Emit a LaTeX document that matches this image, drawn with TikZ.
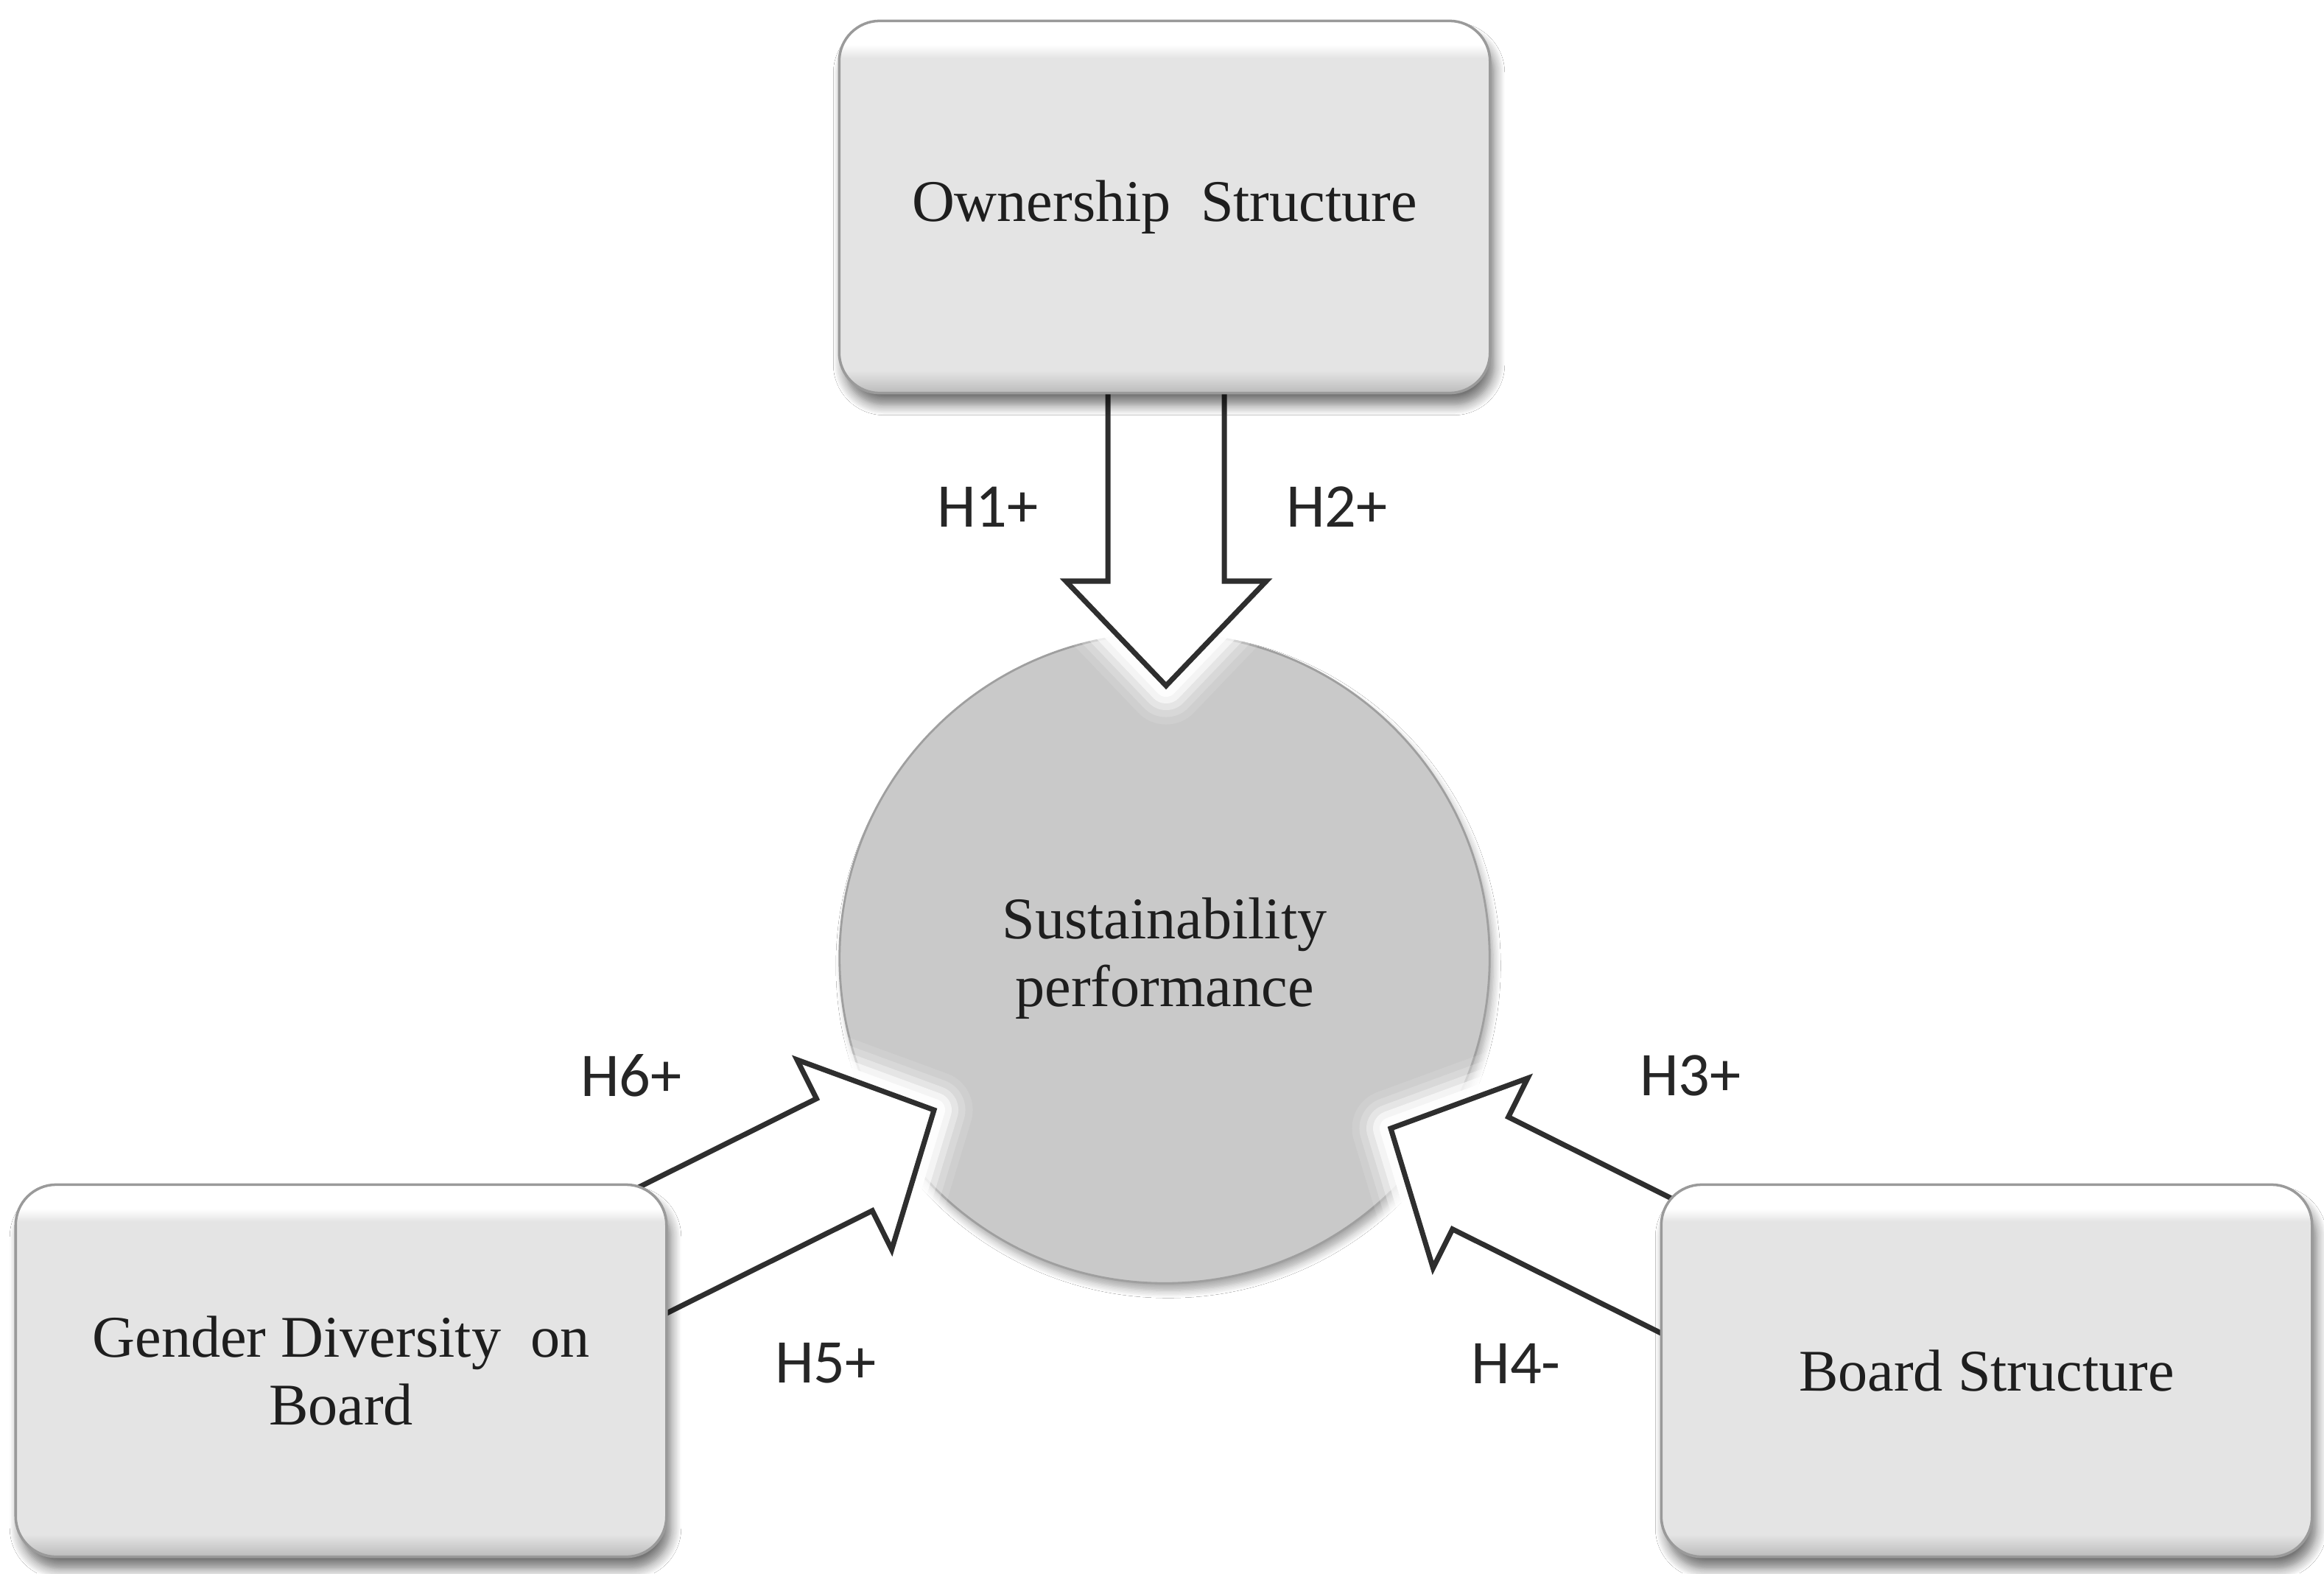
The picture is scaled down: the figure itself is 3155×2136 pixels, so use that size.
\documentclass[tikz,border=0pt]{standalone}
\usepackage{fontspec}
\setmainfont{Liberation Serif}
\newfontfamily\labelfont{Carlito}
\usetikzlibrary{shadows.blur}
\definecolor{boxgray}{HTML}{E4E4E4}
\definecolor{boxdark}{HTML}{BBBBBB}
\definecolor{circgray}{HTML}{C9C9C9}
\definecolor{edgegray}{HTML}{9A9A9A}
\definecolor{arrowline}{HTML}{2E2E2E}
\definecolor{txt}{HTML}{1E1E1E}
\pgfdeclareverticalshading{boxshade}{100bp}{color(0bp)=(boxdark); color(25bp)=(boxdark); color(28bp)=(boxgray); color(70bp)=(boxgray); color(71.8bp)=(white); color(75bp)=(white); color(100bp)=(white)}
% #1 tip, #2 rotation, #3 total length, #4 head length, #5 head half width, #6 shaft half width
\newcommand{\blockarrow}[6]{%
  \begin{scope}[shift={(#1)}, rotate=#2]
    \foreach \w/\o in {1.05cm/0.12, 0.85cm/0.2, 0.66cm/0.35, 0.48cm/0.6, 0.3cm/0.9} {
      \draw[white, line width=\w, opacity=\o, line join=round]
        (0,0) -- (-#4,#5) -- (-#4,#6) -- (-#3,#6) -- (-#3,-#6) -- (-#4,-#6) -- (-#4,-#5) -- cycle;
    }
    \draw[arrowline, fill=white, line width=2pt, line join=miter]
      (0,0) -- (-#4,#5) -- (-#4,#6) -- (-#3,#6) -- (-#3,-#6) -- (-#4,-#6) -- (-#4,-#5) -- cycle;
  \end{scope}}
\tikzset{
  box/.style={rectangle, rounded corners=0.55cm, minimum width=8.83cm, minimum height=5.05cm,
    inner sep=0pt, shade, shading=boxshade, draw=edgegray, line width=1pt, align=center,
    text=txt, font=\fontsize{22.8}{26}\selectfont,
    blur shadow={shadow xshift=0.06cm, shadow yshift=-0.16cm, shadow blur radius=0.14cm,
      shadow blur steps=8, shadow opacity=55}},
  hub/.style={circle, minimum size=8.82cm, inner sep=0pt, fill=circgray, draw=gray!75,
    line width=0.8pt, align=center, text=txt, font=\fontsize{22.8}{26}\selectfont,
    blur shadow={shadow xshift=0.05cm, shadow yshift=-0.1cm, shadow blur radius=0.1cm,
      shadow blur steps=8, shadow opacity=35}},
  hlabel/.style={inner sep=0pt, text=black!85, font=\labelfont\fontsize{24}{28}\selectfont}
}
\begin{document}
\begin{tikzpicture}[x=0.01cm, y=-0.01cm]
  \fill[white] (0,0) rectangle (3155,2136);
  \useasboundingbox (0,0) rectangle (3155,2136);

  % central circle
  \node[hub] (sp) at (1581,1301) {Sustainability\\performance};

  % arrow tips
  \coordinate (tipA) at (1583,931);
  \coordinate (tipB) at (1268,1507);
  \coordinate (tipC) at (1888,1532);

  \blockarrow{tipA}{-90}{420}{142}{136}{79}
  \blockarrow{tipB}{26.5}{480}{136}{144}{85}
  \blockarrow{tipC}{153.5}{480}{136}{144}{85}

  % boxes
  \node[box] (own) at (1581,281) {Ownership\ \ Structure};
  \node[box] (gen) at (463,1861) {Gender Diversity\ \ on\\Board};
  \node[box] (brd) at (2697,1861) {Board Structure};

  % labels
  \node[hlabel] (h1) at (1341,688) {H1+};
  \node[hlabel] (h2) at (1815,688) {H2+};
  \node[hlabel] (h6) at (857,1460) {H6+};
  \node[hlabel] (h5) at (1121,1851) {H5+};
  \node[hlabel] (h3) at (2295,1460) {H3+};
  \node[hlabel] (h4) at (2058,1851) {H4-};
\end{tikzpicture}
\end{document}
